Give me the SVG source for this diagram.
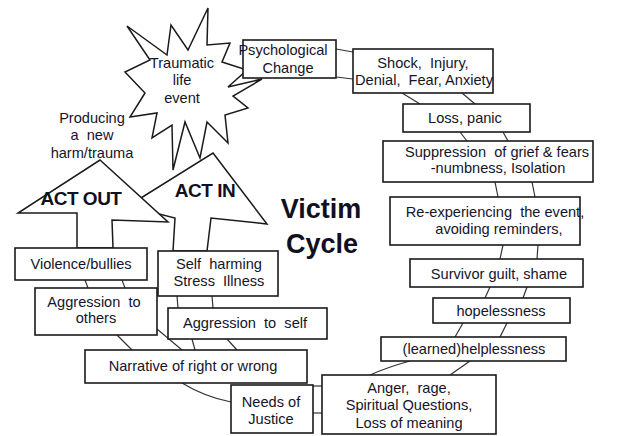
<svg xmlns="http://www.w3.org/2000/svg" width="627" height="436" viewBox="0 0 627 436">
<style>
  .bx { fill: #fff; stroke: #1a1a1a; stroke-width: 1.6; }
  .sh { fill: #fff; stroke: #1a1a1a; stroke-width: 1.5; stroke-linejoin: miter; }
  .ln { fill: none; stroke: #333; stroke-width: 1.2; }
  .t { font-family: "Liberation Sans", Arial, sans-serif; font-size: 14.6px; fill: #14142a; text-anchor: middle; white-space: pre; }
  .big { font-family: "Liberation Sans", Arial, sans-serif; font-weight: bold; fill: #101020; text-anchor: middle; }
</style>
<rect width="627" height="436" fill="#fff"/>
<g id="connectors">
  <line class="ln" x1="336" y1="49" x2="353" y2="52"/>
  <line class="ln" x1="336" y1="77" x2="353" y2="79"/>
  <line class="ln" x1="402" y1="93" x2="420" y2="104"/>
  <line class="ln" x1="462" y1="93" x2="475" y2="104"/>
  <line class="ln" x1="460" y1="132" x2="467" y2="141"/>
  <line class="ln" x1="503" y1="132" x2="508" y2="141"/>
  <line class="ln" x1="495" y1="182" x2="498" y2="197"/>
  <line class="ln" x1="532" y1="182" x2="535" y2="197"/>
  <line class="ln" x1="503" y1="245" x2="500" y2="259"/>
  <line class="ln" x1="538" y1="245" x2="537" y2="259"/>
  <line class="ln" x1="490" y1="287" x2="485" y2="298"/>
  <line class="ln" x1="527" y1="287" x2="523" y2="298"/>
  <line class="ln" x1="463" y1="323" x2="455" y2="337"/>
  <line class="ln" x1="507" y1="323" x2="500" y2="337"/>
  <path class="ln" d="M410,361 Q388,367 370,375"/>
  <line class="ln" x1="470" y1="361" x2="450" y2="375"/>
  <line class="ln" x1="313" y1="386" x2="322" y2="386"/>
  <line class="ln" x1="313" y1="413" x2="322" y2="413"/>
  <path class="ln" d="M182,383 Q205,397 231,402"/>
  <line class="ln" x1="117" y1="335" x2="132" y2="350"/>
  <line class="ln" x1="157" y1="329" x2="182" y2="350"/>
  <line class="ln" x1="192" y1="339" x2="195" y2="350"/>
  <line class="ln" x1="227" y1="339" x2="237" y2="350"/>
  <line class="ln" x1="85" y1="280" x2="88" y2="288"/>
  <line class="ln" x1="122" y1="280" x2="125" y2="288"/>
  <line class="ln" x1="177" y1="296" x2="178" y2="308"/>
  <line class="ln" x1="212" y1="296" x2="213" y2="308"/>
</g>
<g id="act-in">
  <polygon class="sh" points="213,153 267,224 211,218 207,251 173,251 175,218 128,206"/>
  <text class="big" x="205" y="197" font-size="19" letter-spacing="-0.5">ACT IN</text>
</g>
<g id="act-out">
  <polygon class="sh" points="100,160 168,222 112,220 113,248 77,248 77,213 18,213"/>
  <text class="big" x="81" y="205" font-size="19" letter-spacing="-0.5">ACT OUT</text>
</g>
<g id="traumatic-event">
  <polygon class="sh" points="208,8 207,45 230,43 222,62 247,70 228,87 262,79 233,96 248,108 225,115 228,143 207,122 200,158 185,122 173,170 172,125 152,138 157,113 130,117 145,93 125,72 150,60 127,26 167,55 171,25 188,50"/>
  <text class="t" x="182" y="68">Traumatic</text>
  <text class="t" x="182" y="85">life</text>
  <text class="t" x="182" y="103">event</text>
</g>
<g id="producing">
  <text class="t" x="92" y="123">Producing</text>
  <text class="t" x="92" y="140">a  new</text>
  <text class="t" x="92" y="158">harm/trauma</text>
</g>
<g id="title">
  <text class="big" x="321" y="218" font-size="27">Victim</text>
  <text class="big" x="322" y="253" font-size="27">Cycle</text>
</g>
<g id="psych-change">
  <rect class="bx" x="243" y="40" width="93" height="38"/>
  <text class="t" x="283" y="55">Psychological</text>
  <text class="t" x="288" y="73">Change</text>
</g>
<g id="shock">
  <rect class="bx" x="353" y="49" width="140" height="44"/>
  <text class="t" x="423" y="68">Shock,  Injury,</text>
  <text class="t" x="424" y="85">Denial,  Fear, Anxiety</text>
</g>
<g id="loss-panic">
  <rect class="bx" x="403" y="104" width="127" height="28"/>
  <text class="t" x="465" y="123">Loss, panic</text>
</g>
<g id="suppression">
  <rect class="bx" x="383" y="141" width="210" height="41"/>
  <text class="t" x="497" y="157">Suppression  of grief &amp; fears</text>
  <text class="t" x="498" y="173">-numbness, Isolation</text>
</g>
<g id="re-experiencing">
  <rect class="bx" x="390" y="197" width="190" height="48"/>
  <text class="t" x="495" y="217">Re-experiencing  the event,</text>
  <text class="t" x="499" y="234">avoiding reminders,</text>
</g>
<g id="survivor-guilt">
  <rect class="bx" x="410" y="259" width="173" height="28"/>
  <text class="t" x="499" y="279">Survivor guilt, shame</text>
</g>
<g id="hopelessness">
  <rect class="bx" x="433" y="298" width="137" height="25"/>
  <text class="t" x="501" y="316">hopelessness</text>
</g>
<g id="helplessness">
  <rect class="bx" x="381" y="337" width="185" height="24"/>
  <text class="t" x="474" y="354">(learned)helplessness</text>
</g>
<g id="anger">
  <rect class="bx" x="322" y="375" width="174" height="59"/>
  <text class="t" x="409" y="393">Anger,  rage,</text>
  <text class="t" x="409" y="410">Spiritual Questions,</text>
  <text class="t" x="409" y="428">Loss of meaning</text>
</g>
<g id="needs-justice">
  <rect class="bx" x="231" y="385" width="82" height="48"/>
  <text class="t" x="271" y="407">Needs of</text>
  <text class="t" x="271" y="424">Justice</text>
</g>
<g id="narrative">
  <rect class="bx" x="85" y="350" width="222" height="33"/>
  <text class="t" x="193" y="371">Narrative of right or wrong</text>
</g>
<g id="violence">
  <rect class="bx" x="15" y="248" width="132" height="32"/>
  <text class="t" x="81" y="269">Violence/bullies</text>
</g>
<g id="aggression-others">
  <rect class="bx" x="35" y="288" width="122" height="47"/>
  <text class="t" x="94" y="307">Aggression  to</text>
  <text class="t" x="96" y="323">others</text>
</g>
<g id="self-harming">
  <rect class="bx" x="158" y="251" width="120" height="45"/>
  <text class="t" x="219" y="269">Self  harming</text>
  <text class="t" x="219" y="286">Stress  Illness</text>
</g>
<g id="aggression-self">
  <rect class="bx" x="168" y="308" width="159" height="31"/>
  <text class="t" x="245" y="328">Aggression  to  self</text>
</g>
</svg>
